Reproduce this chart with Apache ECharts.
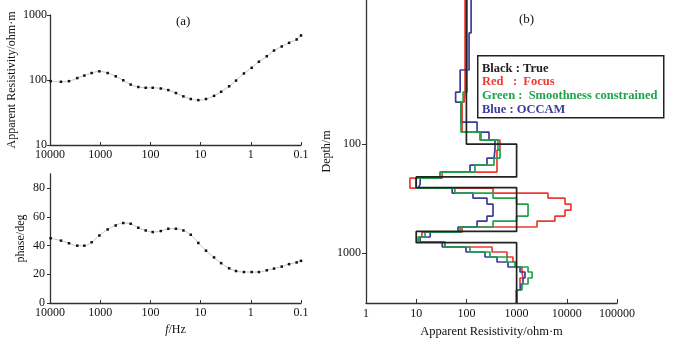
<!DOCTYPE html>
<html>
<head>
<meta charset="utf-8">
<script src="https://cdn.jsdelivr.net/npm/echarts@6/dist/echarts.min.js"></script>
<style>
  html, body { margin: 0; padding: 0; background: #fff; }
  #chart { width: 678px; height: 339px; }
</style>
</head>
<body>
<div id="chart"></div>
<script>
// Sounding data (left panels): frequency in Hz, apparent resistivity, phase
const FREQ = [9700, 6040, 4180, 2860, 2070, 1480, 1040, 710, 491, 347, 247, 174, 124, 90, 62, 44, 31, 22,
  15.7, 11.1, 7.8, 5.4, 3.9, 2.7, 1.97, 1.37, 0.96, 0.69, 0.48, 0.345, 0.242, 0.173, 0.122, 0.1];
const RHO_APP = [96, 94, 96, 107, 117, 128, 136, 128, 114, 99, 85, 78, 76, 76, 74, 70, 63, 56,
  51, 49, 51, 57, 66, 80, 98, 126, 154, 191, 232, 284, 328, 373, 420, 484];
const PHASE = [45.2, 43.5, 41.7, 40, 40, 42.4, 47.1, 51.3, 54.1, 55.8, 55.3, 52.5, 50.6, 49.5, 50.2, 51.8, 51.8, 50.6,
  47.6, 41.9, 36.5, 31.8, 27.8, 24.2, 22.3, 21.6, 21.6, 21.6, 22.8, 24, 25.4, 27.1, 28.3, 29.4];

// Layered models (right panel): depth range, layer bottoms, resistivity per layer
const DEPTH_MIN = 4.8;
const DEPTH_MAX = 2850;
const TRUE_BOUNDS = [100, 200, 250, 630, 800];
const TRUE_RHO = [100, 1000, 10, 1000, 10, 1000];
const INV_BOUNDS = [9.6, 21.0, 33.4, 41.3, 51.0, 62.9, 77.7, 91.9, 113.5, 134.3, 155.6, 180.4, 204.7, 232.3,
  252.7, 280.7, 311.9, 353.9, 401.7, 455.8, 506.4, 574.6, 638.6, 709.4, 788.1, 875.7, 973, 1081, 1201,
  1334, 1483, 1683, 1909, 2167];
const FOCUS_RHO = [94, 94, 94, 90, 82, 82, 82, 186, 467, 407, 407, 407, 33, 7.5, 7.5, 339, 4220, 9200,
  12100, 9200, 5800, 2550, 82, 13, 11, 37, 324, 644, 848, 973, 1280, 1340, 1170, 1170, 1000];
const SMOOTH_RHO = [103, 103, 103, 86, 78, 78, 78, 195, 425, 467, 355, 148, 30, 9.9, 9.9, 59, 339, 1000,
  1690, 1690, 1000, 339, 75, 15, 11, 37.5, 118, 295, 644, 930, 1690, 2030, 1690, 1280, 1000];
const OCCAM_RHO = [124, 113, 75, 61, 78, 78, 163, 282, 371, 355, 257, 118, 30, 12, 11, 52, 135, 257,
  339, 339, 257, 163, 68, 19, 12, 33, 98, 235, 407, 674, 1170, 1470, 1340, 1220, 1000];

const FONT = '"Liberation Serif", "DejaVu Serif", serif';
const AXIS_COLOR = '#333';
const LABEL_SIZE = 12;

function steps(rhos, bounds) {
  const pts = [];
  let top = DEPTH_MIN;
  rhos.forEach((r, i) => {
    const bot = i < bounds.length ? bounds[i] : DEPTH_MAX;
    pts.push([r, top], [r, bot]);
    top = bot;
  });
  return pts;
}

const fmtNum = v => String(+Number(v).toPrecision(4));

function baseAxis(extra) {
  return Object.assign({
    axisLine: { show: true, lineStyle: { color: AXIS_COLOR, width: 1.3 } },
    splitLine: { show: false },
    nameTextStyle: { color: '#111', fontFamily: FONT, fontSize: 12 }
  }, extra);
}

function freqAxis(gridIndex, name) {
  return baseAxis({
    gridIndex,
    type: 'log',
    min: 0.1,
    max: 10000,
    inverse: true,
    name: name || '',
    nameLocation: 'middle',
    nameGap: 22,
    axisTick: { inside: true, length: 3, lineStyle: { color: AXIS_COLOR } },
    axisLabel: { color: '#111', fontFamily: FONT, fontSize: LABEL_SIZE, margin: 4, formatter: fmtNum }
  });
}

const sounding = (idx, values) => ({
  type: 'line',
  xAxisIndex: idx,
  yAxisIndex: idx,
  data: FREQ.map((f, i) => [f, values[i]]),
  smooth: 0.4,
  symbol: 'rect',
  symbolSize: 2.5,
  itemStyle: { color: '#111' },
  lineStyle: { color: '#c4c4c4', width: 1 },
  silent: true
});

const model = (rhos, bounds, color, width) => ({
  type: 'line',
  xAxisIndex: 2,
  yAxisIndex: 2,
  data: steps(rhos, bounds),
  symbol: 'none',
  lineStyle: { color, width },
  silent: true
});

const legendLines = [
  { text: 'Black : True', color: '#222' },
  { text: 'Red   :  Focus', color: '#ee3b30' },
  { text: 'Green :  Smoothness constrained', color: '#1ea24c' },
  { text: 'Blue : OCCAM', color: '#3c3c9c' }
];

const chart = echarts.init(document.getElementById('chart'));
chart.setOption({
  animation: false,
  backgroundColor: '#fff',
  grid: [
    { left: 50, top: 15, width: 251, height: 130, outerBoundsMode: 'none' },
    { left: 50, top: 174, width: 251, height: 129, outerBoundsMode: 'none' },
    { left: 366, top: 0, width: 251, height: 303, outerBoundsMode: 'none' }
  ],
  xAxis: [
    freqAxis(0),
    Object.assign(freqAxis(1, '{i|f}/Hz'), {
      nameGap: 21,
      nameTextStyle: { color: '#111', fontFamily: FONT, fontSize: 12, rich: { i: { fontStyle: 'italic', fontFamily: FONT, fontSize: 12 } } }
    }),
    baseAxis({
      gridIndex: 2,
      type: 'log',
      min: 1,
      max: 100000,
      name: 'Apparent Resistivity/ohm·m',
      nameLocation: 'middle',
      nameGap: 21,
      nameTextStyle: { color: '#111', fontFamily: FONT, fontSize: 12.5 },
      axisTick: { inside: true, length: 4, lineStyle: { color: AXIS_COLOR } },
      axisLabel: { color: '#111', fontFamily: FONT, fontSize: LABEL_SIZE, margin: 5, formatter: fmtNum }
    })
  ],
  yAxis: [
    baseAxis({
      gridIndex: 0,
      type: 'log',
      min: 10,
      max: 1000,
      name: 'Apparent Resistivity/ohm·m',
      nameLocation: 'middle',
      nameGap: 32,
      axisTick: { length: 3, lineStyle: { color: AXIS_COLOR } },
      axisLabel: { color: '#111', fontFamily: FONT, fontSize: LABEL_SIZE, margin: 3, formatter: fmtNum }
    }),
    baseAxis({
      gridIndex: 1,
      type: 'value',
      min: 0,
      max: 90,
      name: 'phase/deg',
      nameLocation: 'middle',
      nameGap: 23,
      axisTick: { length: 3, customValues: [0, 20, 40, 60, 80], lineStyle: { color: AXIS_COLOR } },
      axisLabel: { color: '#111', fontFamily: FONT, fontSize: LABEL_SIZE, margin: 5, customValues: [0, 20, 40, 60, 80] }
    }),
    baseAxis({
      gridIndex: 2,
      type: 'log',
      min: DEPTH_MIN,
      max: DEPTH_MAX,
      inverse: true,
      name: 'Depth/m',
      nameLocation: 'middle',
      nameGap: 22,
      axisTick: { length: 4, customValues: [100, 1000], lineStyle: { color: AXIS_COLOR } },
      axisLabel: { color: '#111', fontFamily: FONT, fontSize: LABEL_SIZE, margin: 5, customValues: [100, 1000], formatter: fmtNum }
    })
  ],
  series: [
    sounding(0, RHO_APP),
    sounding(1, PHASE),
    model(FOCUS_RHO, INV_BOUNDS, '#ee3b30', 1.7),
    model(OCCAM_RHO, INV_BOUNDS, '#3c3c9c', 1.7),
    model(SMOOTH_RHO, INV_BOUNDS, '#1ea24c', 1.7),
    model(TRUE_RHO, TRUE_BOUNDS, '#222', 1.7)
  ],
  graphic: [
    { type: 'text', left: 176, top: 15, style: { text: '(a)', font: '13px ' + FONT, fill: '#111' } },
    { type: 'text', left: 519, top: 13, style: { text: '(b)', font: '13px ' + FONT, fill: '#111' } },
    {
      type: 'rect', left: 477, top: 55, z: 10,
      shape: { width: 186, height: 62 },
      style: { fill: '#fff', stroke: '#222', lineWidth: 1.5 }
    },
    ...legendLines.map((l, i) => ({
      type: 'text', left: 482, top: 62 + i * 13.7, z: 11,
      style: { text: l.text, font: 'bold 12.5px ' + FONT, fill: l.color }
    }))
  ]
});
</script>
</body>
</html>
